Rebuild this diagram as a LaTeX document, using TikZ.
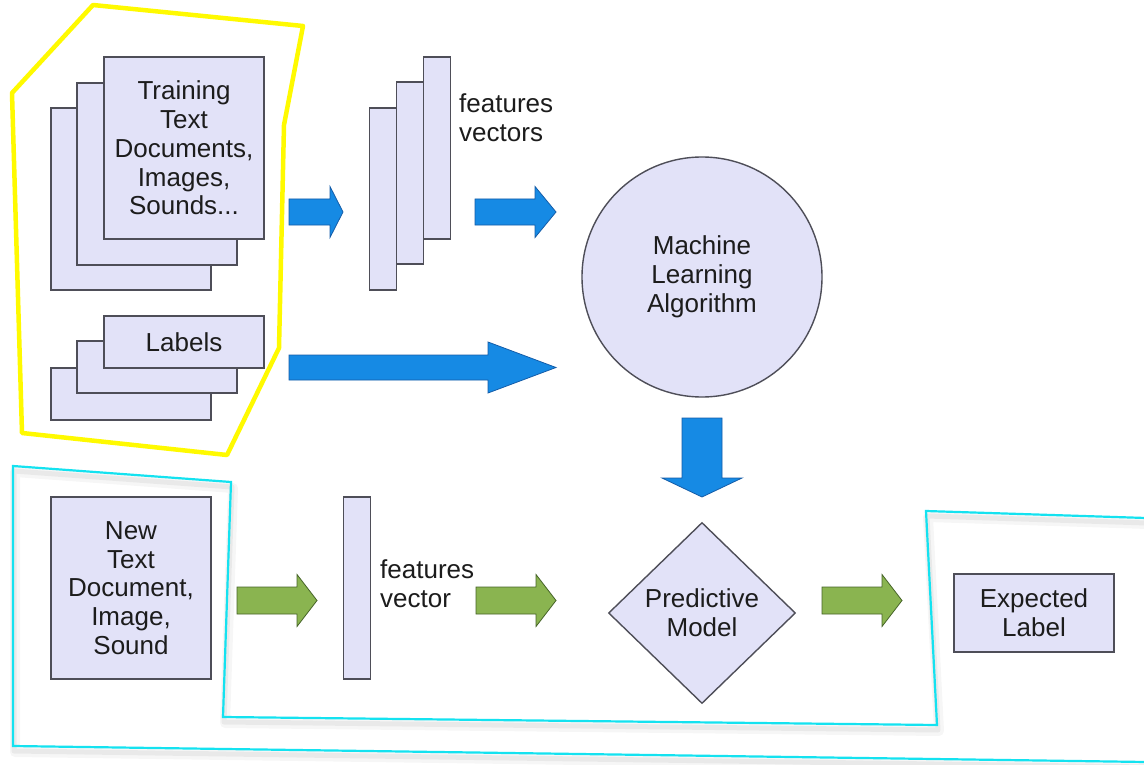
\documentclass[tikz,border=0pt]{standalone}
\usepackage{fontspec}
\setmainfont{Liberation Sans}
\usetikzlibrary{shapes.geometric}

\definecolor{boxfill}{RGB}{226,226,248}
\definecolor{boxline}{RGB}{78,78,88}
\definecolor{arrowblue}{RGB}{22,138,228}
\definecolor{arrowblueline}{RGB}{20,92,168}
\definecolor{arrowgreen}{RGB}{138,180,80}
\definecolor{arrowgreenline}{RGB}{70,100,40}
\definecolor{hlyellow}{RGB}{255,250,0}
\definecolor{hlcyan}{RGB}{20,226,240}
\definecolor{ink}{RGB}{28,28,28}

% horizontal block arrow: style, tail x, head start x, tip x, centre y, shaft half width, head half width
\newcommand\hblock[7]{%
  \draw[#1] (#2,#5-#6) -- (#3,#5-#6) -- (#3,#5-#7) -- (#4,#5)
            -- (#3,#5+#7) -- (#3,#5+#6) -- (#2,#5+#6) -- cycle;}

% outline of the prediction group
\newcommand\predoutline{(1146,518) -- (926,511) -- (937,725) -- (223,717)
  -- (231,482) -- (13,466) -- (13,746) -- (1146,762)}

\tikzset{
  sheet/.style={draw=boxline, fill=boxfill, line width=1.4pt, inner sep=0pt},
  txt/.style={font=\fontsize{26}{28.8}\selectfont, text=ink, align=center},
  bluearrow/.style={fill=arrowblue, draw=arrowblueline, line width=0.8pt, line join=miter},
  greenarrow/.style={fill=arrowgreen, draw=arrowgreenline, line width=0.8pt, line join=miter},
  trainzone/.style={draw=hlyellow, line width=4.5pt, line join=round},
  predzone/.style={draw=hlcyan, line width=2.2pt, line join=miter},
  zoneshadow/.style={draw=black, line join=round},
}

\begin{document}
\begin{tikzpicture}[x=1pt, y=-1pt]
\useasboundingbox (0,0) rectangle (1144,765);
\fill[white] (0,0) rectangle (1144,765);

% training data outline
\draw[trainzone] (12,93) -- (93,5) -- (303,26) -- (284,125) -- (279,348)
  -- (227,455) -- (22,433) -- cycle;

% prediction outline with its soft shadow
\draw[zoneshadow, opacity=0.035, line width=10pt, shift={(2,6)}] \predoutline;
\draw[zoneshadow, opacity=0.05, line width=5pt, shift={(1,5)}] \predoutline;
\draw[predzone] \predoutline;

% training documents stack
\node[sheet, minimum width=160, minimum height=182] (train3) at (131,199) {};
\node[sheet, minimum width=160, minimum height=182] (train2) at (157,174) {};
\node[sheet, minimum width=160, minimum height=182, txt] (train1) at (184,148)
  {Training\\Text\\Documents,\\Images,\\Sounds...};

% labels stack
\node[sheet, minimum width=160, minimum height=52] (lab3) at (131,394) {};
\node[sheet, minimum width=160, minimum height=52] (lab2) at (157,367) {};
\node[sheet, minimum width=160, minimum height=52, txt] (lab1) at (184,342) {Labels};

% feature vectors stack
\node[sheet, minimum width=27, minimum height=182] (fv3) at (383,199) {};
\node[sheet, minimum width=27, minimum height=182] (fv2) at (410,173) {};
\node[sheet, minimum width=27, minimum height=182] (fv1) at (437,148) {};
\node[txt, align=left, anchor=west, inner sep=0pt] (fvtext) at (459,118) {features\\vectors};

% learning algorithm
\node[sheet, circle, minimum size=240, txt] (mla) at (702,277) {Machine\\Learning\\Algorithm};

% new input document and its feature vector
\node[sheet, minimum width=160, minimum height=182, txt] (newdoc) at (131,588)
  {New\\Text\\Document,\\Image,\\Sound};
\node[sheet, minimum width=27, minimum height=182] (nfv) at (357,588) {};
\node[txt, align=left, anchor=west, inner sep=0pt] (nfvtext) at (380,584) {features\\vector};

% predictive model and result
\node[sheet, diamond, minimum width=187, minimum height=181, txt] (pm) at (702,613)
  {Predictive\\Model};
\node[sheet, minimum width=160, minimum height=78, txt] (out) at (1034,613)
  {Expected\\Label};

% block arrows of the training flow
\hblock{bluearrow}{289}{330}{343}{212}{13}{25.5}
\hblock{bluearrow}{475}{535}{556}{212}{13}{25.5}
\hblock{bluearrow}{289}{488}{556}{367.5}{12.5}{25.5}
\draw[bluearrow] (682,418) -- (722,418) -- (722,478) -- (742,478) -- (702,497)
  -- (662,478) -- (682,478) -- cycle;

% block arrows of the prediction flow
\hblock{greenarrow}{237}{297}{317}{600.5}{13.5}{26}
\hblock{greenarrow}{476}{536}{556}{600.5}{13.5}{26}
\hblock{greenarrow}{822}{882}{902}{600.5}{13.5}{26}
\end{tikzpicture}
\end{document}
